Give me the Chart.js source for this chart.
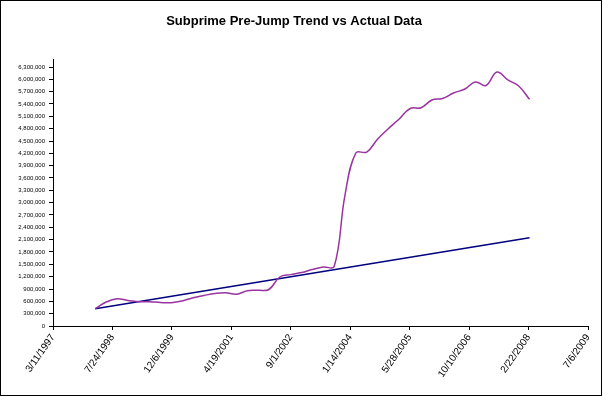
<!DOCTYPE html>
<html>
<head>
<meta charset="utf-8">
<script src="https://cdn.jsdelivr.net/npm/chart.js@4/dist/chart.umd.min.js"></script>
<style>
  body { margin: 0; background: #fff; }
  canvas { display: block; }
</style>
</head>
<body>
<canvas id="chartSubprime" width="603" height="397"></canvas>
<script>
// Quarterly dates of the actual data
const fechas = [
  "3/1/1998", "6/1/1998", "9/1/1998", "12/1/1998",
  "3/1/1999", "6/1/1999", "9/1/1999", "12/1/1999",
  "3/1/2000", "6/1/2000", "9/1/2000", "12/1/2000",
  "3/1/2001", "6/1/2001", "9/1/2001", "12/1/2001",
  "3/1/2002", "6/1/2002", "9/1/2002", "12/1/2002",
  "3/1/2003", "6/1/2003", "9/1/2003", "12/1/2003",
  "3/1/2004", "6/1/2004", "9/1/2004", "12/1/2004",
  "3/1/2005", "6/1/2005", "9/1/2005", "12/1/2005",
  "3/1/2006", "6/1/2006", "9/1/2006", "12/1/2006",
  "3/1/2007", "6/1/2007", "9/1/2007", "12/1/2007",
  "3/1/2008"
];

// Actual data
const actual = [
  420000, 584000, 664000, 620000,
  591000, 591000, 572000, 567000,
  608000, 686000, 742000, 790000,
  810000, 773000, 859000, 868000,
  888000, 1192000, 1250000, 1301000,
  1374000, 1435000, 1447000, 3186000,
  4208000, 4232000, 4549000, 4804000,
  5035000, 5290000, 5310000, 5497000,
  5534000, 5668000, 5758000, 5935000,
  5850000, 6178000, 5984000, 5838000,
  5514000
];

// Pre-jump trend (start and end)
const fechasTrend = ["3/1/1998", "3/1/2008"];
const trend = [420000, 2148000];

// Axis bounds in Excel serial days (3/11/1997 .. 7/6/2009)
const xMin = 35500;
const xMax = 40000;
const xStep = 500;

// Value axis: labelled ticks 0 .. 6,300,000, line runs a bit higher
const yTicks = [
  0, 300000, 600000, 900000, 1200000, 1500000, 1800000, 2100000,
  2400000, 2700000, 3000000, 3300000, 3600000, 3900000, 4200000,
  4500000, 4800000, 5100000, 5400000, 5700000, 6000000, 6300000
];
const yMax = 6480000;

const DIA = 86400000;
const BASE = Date.UTC(1899, 11, 30);

function aSerial(texto) {
  const [m, d, y] = texto.split("/").map(Number);
  return Math.round((Date.UTC(y, m - 1, d) - BASE) / DIA);
}

function aTexto(serial) {
  const f = new Date(BASE + serial * DIA);
  return `${f.getUTCMonth() + 1}/${f.getUTCDate()}/${f.getUTCFullYear()}`;
}

const puntosActual = fechas.map((f, i) => ({ x: aSerial(f), y: actual[i] }));
const puntosTrend = fechasTrend.map((f, i) => ({ x: aSerial(f), y: trend[i] }));

// Outer chart border
const borde = {
  id: "borde",
  afterDraw(chart) {
    const ctx = chart.ctx;
    ctx.save();
    ctx.strokeStyle = "#000";
    ctx.lineWidth = 1;
    ctx.strokeRect(0.5, 0.5, 601, 395);
    ctx.restore();
  },
};

const fuente = "'Liberation Sans', Arial, sans-serif";

const ctx = document.getElementById("chartSubprime").getContext("2d");
new Chart(ctx, {
  type: "line",
  data: {
    datasets: [
      {
        label: "Actual",
        data: puntosActual,
        borderColor: "#9933A0",
        borderWidth: 1.5,
        pointRadius: 0,
        tension: 0.4,
        fill: false,
      },
      {
        label: "Trend",
        data: puntosTrend,
        borderColor: "#000080",
        borderWidth: 1.5,
        pointRadius: 0,
        fill: false,
      },
    ],
  },
  options: {
    responsive: false,
    animation: false,
    layout: { padding: { left: 0, right: 15, top: 0, bottom: 0 } },
    plugins: {
      legend: { display: false },
      tooltip: { enabled: false },
      title: {
        display: true,
        text: "Subprime Pre-Jump Trend vs Actual Data",
        color: "#000",
        font: { family: fuente, size: 13, weight: "bold" },
        padding: { top: 14, bottom: 30 },
      },
    },
    scales: {
      x: {
        type: "linear",
        min: xMin,
        max: xMax,
        afterFit: (scale) => { scale.height = 71; },
        grid: { display: true, drawOnChartArea: false, drawTicks: true, tickLength: 4, color: "#000" },
        border: { display: true, color: "#000", width: 1 },
        ticks: {
          stepSize: xStep,
          autoSkip: false,
          includeBounds: false,
          maxRotation: 55,
          minRotation: 55,
          padding: 2,
          color: "#000",
          font: { family: fuente, size: 10 },
          callback: (v) => aTexto(v),
        },
      },
      y: {
        min: 0,
        max: yMax,
        afterFit: (scale) => { scale.width = 53; },
        afterBuildTicks: (scale) => {
          scale.ticks = yTicks.map((v) => ({ value: v }));
        },
        grid: { display: true, drawOnChartArea: false, drawTicks: true, tickLength: 4, color: "#000" },
        border: { display: true, color: "#000", width: 1 },
        ticks: {
          autoSkip: false,
          padding: 4,
          color: "#000",
          font: { family: fuente, size: 6 },
          callback: (v) => v.toLocaleString("en-US"),
        },
      },
    },
  },
  plugins: [borde],
});
</script>
</body>
</html>
